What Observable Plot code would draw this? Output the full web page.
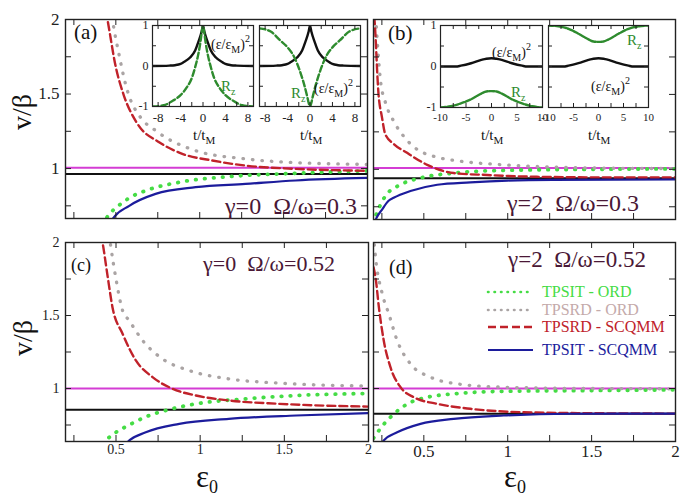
<!DOCTYPE html>
<html><head><meta charset="utf-8">
<script src="https://cdn.jsdelivr.net/npm/d3@7"></script>
<script src="https://cdn.jsdelivr.net/npm/@observablehq/plot@0.6"></script>
<style>
body{margin:0;background:#fff}
#fig{position:relative;width:685px;height:497px;overflow:hidden;background:#fff}
#fig svg{position:absolute}
#fig svg, #fig svg text, #fig svg tspan{font-family:"Liberation Serif","Times New Roman","DejaVu Serif",serif !important}
</style></head><body><div id="fig"></div>
<script>
// ---------- tick values ----------
const X_TICKS = [0.25, 0.5, 0.75, 1, 1.25, 1.5, 1.75];
const X_TICK_LABELS = [0.5, 1, 1.5, 2];
const Y_TICKS = [0.75, 1, 1.25, 1.5, 1.75];
const Y_TICK_LABELS = [1, 1.5, 2];
const SERIES = ["TPSIT - ORD", "TPSRD - ORD", "TPSRD - SCQMM", "TPSIT - SCQMM"];

// ---------- panel (a): gamma=0, Omega/omega=0.3 ----------
const A_TPSIT_ORD = [[0.42,0.62],[0.44,0.66],[0.53,0.763],[0.60,0.815],[0.678,0.852],[0.877,0.908],[1.174,0.946],[1.571,0.968],[2.0,0.985]];
const A_TPSRD_ORD = [[0.47,2.08],[0.48,2.0],[0.52,1.76],[0.557,1.57],[0.575,1.5],[0.646,1.345],[0.737,1.255],[0.976,1.12],[1.27,1.065],[1.571,1.04],[2.0,1.028]];
const A_TPSRD_SCQMM = [[0.44,2.06],[0.45,2.0],[0.5,1.68],[0.545,1.5],[0.629,1.30],[0.758,1.177],[0.896,1.099],[1.075,1.054],[1.273,1.02],[1.571,0.998],[2.0,0.985]];
const A_TPSIT_SCQMM = [[0.47,0.64],[0.48,0.66],[0.58,0.75],[0.737,0.83],[0.976,0.875],[1.273,0.897],[1.571,0.92],[2.0,0.937]];

// ---------- panel (b): gamma=2, Omega/omega=0.3 ----------
const B_TPSIT_ORD = [[0.2,0.64],[0.205,0.66],[0.24,0.76],[0.27,0.82],[0.36,0.897],[0.48,0.942],[0.678,0.975],[0.976,0.993],[1.5,1.0],[2.0,1.003]];
const B_TPSRD_ORD = [[0.21,2.08],[0.22,1.9],[0.242,1.59],[0.27,1.45],[0.321,1.32],[0.38,1.22],[0.44,1.15],[0.58,1.08],[0.678,1.06],[0.976,1.03],[1.27,1.015],[1.57,1.008],[2.0,1.005]];
const B_TPSRD_SCQMM = [[0.198,2.1],[0.206,2.0],[0.23,1.5],[0.25,1.35],[0.27,1.235],[0.32,1.17],[0.40,1.11],[0.52,1.03],[0.678,0.975],[0.877,0.962],[1.174,0.95],[1.57,0.946],[2.0,0.945]];
const B_TPSIT_SCQMM = [[0.2,0.62],[0.205,0.64],[0.22,0.68],[0.25,0.73],[0.29,0.79],[0.32,0.81],[0.42,0.855],[0.58,0.897],[0.777,0.913],[1.0,0.925],[1.27,0.93],[2.0,0.932]];

// ---------- panel (c): gamma=0, Omega/omega=0.52 ----------
const C_TPSIT_ORD = [[0.42,0.62],[0.44,0.645],[0.5,0.70],[0.578,0.75],[0.677,0.806],[0.816,0.856],[0.975,0.895],[1.27,0.929],[1.57,0.952],[2.0,0.966]];
const C_TPSRD_ORD = [[0.46,2.05],[0.467,1.99],[0.50,1.75],[0.539,1.534],[0.578,1.466],[0.658,1.329],[0.776,1.203],[0.935,1.123],[1.17,1.066],[1.47,1.037],[2.0,1.017]];
const C_TPSRD_SCQMM = [[0.41,2.06],[0.42,2.0],[0.45,1.77],[0.479,1.557],[0.539,1.375],[0.618,1.192],[0.717,1.078],[0.836,0.998],[0.975,0.952],[1.17,0.918],[1.47,0.895],[2.0,0.876]];
const C_TPSIT_SCQMM = [[0.56,0.62],[0.568,0.632],[0.677,0.70],[0.876,0.758],[1.17,0.792],[1.57,0.815],[2.0,0.832]];

// ---------- panel (d): gamma=2, Omega/omega=0.52 ----------
const D_TPSIT_ORD = [[0.2,0.66],[0.232,0.712],[0.261,0.755],[0.321,0.825],[0.40,0.893],[0.52,0.94],[0.678,0.963],[0.976,0.981],[1.5,0.986],[2.0,0.991]];
const D_TPSRD_ORD = [[0.2,2.05],[0.212,1.90],[0.252,1.649],[0.291,1.512],[0.341,1.329],[0.42,1.169],[0.539,1.078],[0.698,1.032],[0.976,1.009],[1.5,1.0],[2.0,0.998]];
const D_TPSRD_SCQMM = [[0.2,1.83],[0.212,1.762],[0.232,1.557],[0.261,1.329],[0.301,1.146],[0.361,1.009],[0.44,0.94],[0.579,0.895],[0.777,0.861],[1.075,0.838],[1.57,0.83],[2.0,0.828]];
const D_TPSIT_SCQMM = [[0.25,0.62],[0.261,0.644],[0.341,0.70],[0.48,0.758],[0.678,0.792],[0.976,0.815],[1.37,0.827],[2.0,0.828]];

// horizontal reference levels per panel (a, b, c, d)
const MAGENTA_LEVEL = [1.005, 1.008, 1.0, 1.0];
const BLACK_LEVEL = [0.963, 0.94, 0.855, 0.827];
const ANNOTATIONS = ["γ=0  Ω/ω=0.3", "γ=2  Ω/ω=0.3", "γ=0  Ω/ω=0.52", "γ=2  Ω/ω=0.52"];
const PANEL_TAGS = ["(a)", "(b)", "(c)", "(d)"];

// ---------- insets: t/tM vs (eps/epsM)^2 (black) and Rz (green) ----------
const IA1_EPS = [[-9,0],[-6,0.01],[-5,0.02],[-4,0.05],[-3.5,0.09],[-2.3,0.21],[-1.4,0.38],[-0.84,0.59],[-0.24,0.85],[0,1],[0.24,0.85],[0.84,0.59],[1.4,0.38],[2.3,0.21],[3.5,0.09],[4,0.05],[5,0.02],[6,0.01],[9,0]];
const IA1_RZ = [[-9,-1],[-7,-0.97],[-5.4,-0.86],[-4,-0.72],[-2.9,-0.53],[-2,-0.3],[-1.4,-0.03],[-0.9,0.25],[-0.5,0.55],[-0.2,0.85],[0,1],[0.2,0.85],[0.5,0.55],[0.9,0.25],[1.4,-0.03],[2,-0.3],[2.9,-0.53],[4,-0.72],[5.4,-0.86],[7,-0.97],[9,-1]];
const IA2_EPS = [[-9,0],[-6,0.01],[-5,0.02],[-4,0.05],[-3.5,0.09],[-2.3,0.21],[-1.4,0.38],[-0.84,0.59],[-0.24,0.85],[0,1],[0.24,0.85],[0.84,0.59],[1.4,0.38],[2.3,0.21],[3.5,0.09],[4,0.05],[5,0.02],[6,0.01],[9,0]];
const IA2_RZ = [[-9,0.93],[-7,0.85],[-5.3,0.63],[-4,0.46],[-3,0.27],[-2.3,0.06],[-1.5,-0.25],[-1.1,-0.43],[-0.5,-0.75],[-0.2,-0.93],[0,-1],[0.2,-0.93],[0.5,-0.75],[1.1,-0.43],[1.5,-0.25],[2.3,0.06],[3,0.27],[4,0.46],[5.3,0.63],[7,0.85],[9,0.93]];
const IB1_EPS = [[-10,0],[-7,0],[-6,0.02],[-4,0.08],[-2,0.16],[-1,0.19],[0,0.2],[1,0.19],[2,0.16],[4,0.08],[6,0.02],[7,0],[10,0]];
const IB1_RZ = [[-10,-1],[-8,-0.97],[-6,-0.9],[-4,-0.8],[-2,-0.66],[-1,-0.61],[0,-0.6],[1,-0.61],[2,-0.66],[4,-0.8],[6,-0.9],[8,-0.97],[10,-1]];
const IB2_EPS = [[-10,0],[-7,0],[-6,0.02],[-4,0.08],[-2,0.16],[-1,0.19],[0,0.2],[1,0.19],[2,0.16],[4,0.08],[6,0.02],[7,0],[10,0]];
const IB2_RZ = [[-10,1],[-8,0.98],[-6,0.92],[-4,0.8],[-2,0.66],[-1,0.61],[0,0.6],[1,0.61],[2,0.66],[4,0.8],[6,0.92],[8,0.98],[10,1]];
const IA_X_TICKS = [-8,-6,-4,-2,0,2,4,6,8];
const IA_X_LABELS = [-8,-4,0,4,8];
const IB_X_TICKS = [-10,-7.5,-5,-2.5,0,2.5,5,7.5,10];
const IB_X_LABELS = [-10,-5,0,5,10];
const I_Y_TICKS = [-1,-0.5,0,0.5,1];
const I_Y_LABELS = [-1,0,1];

// ---------- styles ----------
const STYLES = [
  {stroke: "#45dc45", strokeWidth: 3.8, strokeDasharray: "0.5 8.5", strokeLinecap: "round"},
  {stroke: "#aaa4a4", strokeWidth: 3.3, strokeDasharray: "0.5 9", strokeLinecap: "round"},
  {stroke: "#c0222a", strokeWidth: 2.4, strokeDasharray: "8 4"},
  {stroke: "#1c1c9c", strokeWidth: 2.2}
];
const INK = "#222";
const SERIF = "'Liberation Serif', 'Times New Roman', serif";
const fig = document.getElementById("fig");

function place(svg, left, top) {
  svg.style.left = left + "px";
  svg.style.top = top + "px";
  fig.appendChild(svg);
}

function mainPanel({fl, ft, fw, fh, yDomain, data, magenta, black, yLabels, xLabels, yFont, xFont}) {
  const mL = 45, mR = 8, mT = 8, mB = 32;
  const marks = [
    Plot.ruleY([magenta], {stroke: "#d43cd4", strokeWidth: 2}),
    Plot.ruleY([black], {stroke: "#111", strokeWidth: 2})
  ];
  data.forEach((pts, i) => marks.push(
    Plot.line(pts, {x: d => d[0], y: d => d[1], curve: "monotone-x", clip: true, ...STYLES[i]})
  ));
  marks.push(
    Plot.ruleX(X_TICKS, {x: d => d, insetTop: fh - 6, stroke: INK}),
    Plot.ruleX(X_TICKS, {x: d => d, insetBottom: fh - 6, stroke: INK}),
    Plot.ruleY(Y_TICKS, {y: d => d, insetRight: fw - 6, stroke: INK}),
    Plot.ruleY(Y_TICKS, {y: d => d, insetLeft: fw - 6, stroke: INK}),
    Plot.frame({stroke: INK, strokeWidth: 1.4})
  );
  if (yLabels) marks.push(Plot.axisY(Y_TICK_LABELS, {tickSize: 0, tickPadding: 6, fontSize: yFont, fill: INK, label: null, tickFormat: d => String(d)}));
  if (xLabels) marks.push(Plot.axisX(X_TICK_LABELS, {tickSize: 0, tickPadding: 3, fontSize: xFont, fill: INK, label: null, tickFormat: d => String(d)}));
  const svg = Plot.plot({
    width: fw + mL + mR, height: fh + mT + mB,
    marginLeft: mL, marginRight: mR, marginTop: mT, marginBottom: mB,
    x: {domain: [0.2, 2], axis: null},
    y: {domain: yDomain, axis: null},
    style: {background: "none", overflow: "visible", fontFamily: SERIF},
    marks
  });
  place(svg, fl - mL, ft - mT);
}

function insetPanel({fl, ft, fw, fh, xDomain, xTicks, xLabels, yLabels, eps, rz, dash, xFont}) {
  const mL = 24, mR = 4, mT = 4, mB = 24;
  const marks = [
    Plot.frame({fill: "white", stroke: null}),
    Plot.line(eps, {x: d => d[0], y: d => d[1], stroke: "#111", strokeWidth: 2.4, curve: "monotone-x", clip: true}),
    Plot.line(rz, {x: d => d[0], y: d => d[1], stroke: "#2e8b2e", strokeWidth: 2.4, strokeDasharray: dash, curve: "monotone-x", clip: true}),
    Plot.ruleX(xTicks, {x: d => d, insetTop: fh - 4, stroke: INK}),
    Plot.ruleX(xTicks, {x: d => d, insetBottom: fh - 4, stroke: INK}),
    Plot.ruleY(I_Y_TICKS, {y: d => d, insetRight: fw - 4, stroke: INK}),
    Plot.ruleY(I_Y_TICKS, {y: d => d, insetLeft: fw - 4, stroke: INK}),
    Plot.frame({stroke: INK, strokeWidth: 1.2}),
    Plot.axisX(xLabels, {tickSize: 0, tickPadding: 6, fontSize: xFont, fill: INK, label: null, tickFormat: d => String(d)})
  ];
  if (yLabels) marks.push(Plot.axisY(I_Y_LABELS, {tickSize: 0, tickPadding: 4, fontSize: 12, fill: INK, label: null, tickFormat: d => String(d)}));
  const svg = Plot.plot({
    width: fw + mL + mR, height: fh + mT + mB,
    marginLeft: mL, marginRight: mR, marginTop: mT, marginBottom: mB,
    x: {domain: xDomain, axis: null},
    y: {domain: [-1, 1], axis: null},
    style: {background: "none", overflow: "visible", fontFamily: SERIF},
    marks
  });
  place(svg, fl - mL, ft - mT);
}

// main panels
mainPanel({fl: 65, ft: 19, fw: 302, fh: 199, yDomain: [0.665, 2], data: [A_TPSIT_ORD, A_TPSRD_ORD, A_TPSRD_SCQMM, A_TPSIT_SCQMM], magenta: MAGENTA_LEVEL[0], black: BLACK_LEVEL[0], yLabels: true, xLabels: false, yFont: 17, xFont: 13});
mainPanel({fl: 373, ft: 19, fw: 302, fh: 200, yDomain: [0.665, 2], data: [B_TPSIT_ORD, B_TPSRD_ORD, B_TPSRD_SCQMM, B_TPSIT_SCQMM], magenta: MAGENTA_LEVEL[1], black: BLACK_LEVEL[1], yLabels: false, xLabels: false, yFont: 17, xFont: 13});
mainPanel({fl: 65, ft: 242, fw: 303, fh: 199, yDomain: [0.637, 2], data: [C_TPSIT_ORD, C_TPSRD_ORD, C_TPSRD_SCQMM, C_TPSIT_SCQMM], magenta: MAGENTA_LEVEL[2], black: BLACK_LEVEL[2], yLabels: true, xLabels: true, yFont: 14, xFont: 14});
mainPanel({fl: 373, ft: 242, fw: 302, fh: 199, yDomain: [0.637, 2], data: [D_TPSIT_ORD, D_TPSRD_ORD, D_TPSRD_SCQMM, D_TPSIT_SCQMM], magenta: MAGENTA_LEVEL[3], black: BLACK_LEVEL[3], yLabels: false, xLabels: true, yFont: 14, xFont: 17});

// insets
insetPanel({fl: 152, ft: 25, fw: 101, fh: 81, xDomain: [-9, 9], xTicks: IA_X_TICKS, xLabels: IA_X_LABELS, yLabels: true, eps: IA1_EPS, rz: IA1_RZ, dash: "6 3", xFont: 13});
insetPanel({fl: 259, ft: 25, fw: 101, fh: 81, xDomain: [-9, 9], xTicks: IA_X_TICKS, xLabels: IA_X_LABELS, yLabels: false, eps: IA2_EPS, rz: IA2_RZ, dash: "6 3", xFont: 13});
insetPanel({fl: 440, ft: 25, fw: 102, fh: 82, xDomain: [-10, 10], xTicks: IB_X_TICKS, xLabels: IB_X_LABELS, yLabels: true, eps: IB1_EPS, rz: IB1_RZ, dash: "5 1.5", xFont: 11});
insetPanel({fl: 548, ft: 25, fw: 100, fh: 82, xDomain: [-10, 10], xTicks: IB_X_TICKS, xLabels: IB_X_LABELS, yLabels: false, eps: IB2_EPS, rz: IB2_RZ, dash: "5 1.5", xFont: 11});

// ---------- overlay text ----------
const ov = d3.create("svg").attr("width", 685).attr("height", 497)
  .style("left", "0px").style("top", "0px").style("pointer-events", "none")
  .attr("font-family", SERIF);
fig.appendChild(ov.node());

function txt(x, y, s, size, color, anchor = "start") {
  return ov.append("text").attr("x", x).attr("y", y).attr("font-size", size)
    .attr("font-family", SERIF)
    .attr("fill", color).attr("text-anchor", anchor).text(s);
}
// panel tags
[[74, 39, 21], [388, 40, 21], [71, 271, 18], [389, 274, 20]].forEach(([x, y, s], i) => txt(x, y, PANEL_TAGS[i], s, "#111"));
// parameter annotations
const ANN_COLOR = "#4a1836";
[[225, 214, 24], [507, 211, 24], [203, 271, 22], [508, 267, 23]].forEach(([x, y, s], i) =>
  txt(x, y, ANNOTATIONS[i], s, ANN_COLOR).style("white-space", "pre"));

// y-axis labels
[[21, 112], [22, 338]].forEach(([x, y]) =>
  ov.append("text").attr("transform", `translate(${x},${y}) rotate(-90)`).attr("text-anchor", "middle")
    .attr("dominant-baseline", "central").attr("font-size", 28).attr("fill", "#111").text("v/β"));
// x-axis labels
[[196, 487], [504, 487]].forEach(([x, y]) => {
  const t = txt(x, y, "ε", 31, "#111");
  t.append("tspan").attr("font-size", 18).attr("dy", 6).text("0");
});

// inset labels
function epsLabel(x, y) {
  const t = txt(x, y, "(ε/ε", 14, "#111");
  t.append("tspan").attr("font-size", 10).attr("dy", 4).text("M");
  t.append("tspan").attr("dy", -4).text(")");
  t.append("tspan").attr("font-size", 10).attr("dy", -7).text("2");
}
function rzLabel(x, y) {
  const t = txt(x, y, "R", 15, "#2e8b2e");
  t.append("tspan").attr("font-size", 10).attr("dy", 4).text("z");
}
epsLabel(211, 49); rzLabel(221, 91);
epsLabel(314, 93); rzLabel(291, 98);
epsLabel(492, 57); rzLabel(511, 97);
epsLabel(591, 91); rzLabel(627, 45);
[203, 310, 491, 598].forEach(cx => {
  const t = txt(cx - 10, 140, "t/t", 15, "#111", "start");
  t.append("tspan").attr("font-size", 11).attr("dy", 4).text("M");
});

// legend in panel (d)
const LEG_Y = [292, 310, 327, 350];
const LEG_COLORS = ["#45dc45", "#c4aaaa", "#c0222a", "#1c1c9c"];
SERIES.forEach((name, i) => {
  const st = STYLES[i];
  ov.append("line").attr("x1", 488).attr("x2", 533).attr("y1", LEG_Y[i]).attr("y2", LEG_Y[i])
    .attr("stroke", st.stroke).attr("stroke-width", i < 2 ? 2.6 : st.strokeWidth)
    .attr("stroke-linecap", st.strokeLinecap || null)
    .attr("stroke-dasharray", i < 2 ? "0.5 6" : (st.strokeDasharray || null));
  txt(542, LEG_Y[i] + 5, name, 16, LEG_COLORS[i]);
});
</script></body></html>
